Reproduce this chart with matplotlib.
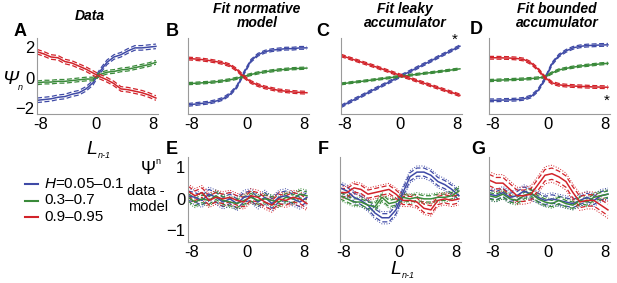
import numpy as np
import matplotlib
matplotlib.use("Agg")
import matplotlib.pyplot as plt

plt.rcParams["font.family"] = ["Liberation Sans", "DejaVu Sans"]
plt.rcParams["mathtext.fontset"] = "custom"
plt.rcParams["mathtext.rm"] = "Liberation Sans"
plt.rcParams["mathtext.it"] = "Liberation Sans:italic"
plt.rcParams["mathtext.bf"] = "Liberation Sans:bold"

# L_{n-1} grid
L = [-8.5, -7.5, -6.5, -5.5, -4.5, -3.5, -2.5, -1.5, -0.5,
     0.5, 1.5, 2.5, 3.5, 4.5, 5.5, 6.5, 7.5, 8.5]
hazard_labels = ["$H$=0.05\u20130.1", "0.3\u20130.7", "0.9\u20130.95"]

# top row: psi_n
data_blue = [-1.5, -1.45, -1.4, -1.3, -1.25, -1.1, -1.0, -0.75, -0.35, 0.4, 1.0, 1.35, 1.5, 1.75, 1.95, 1.95, 2.0, 2.05]
data_green = [-0.35, -0.3, -0.3, -0.25, -0.25, -0.2, -0.15, -0.1, -0.1, 0.2, 0.35, 0.4, 0.5, 0.55, 0.65, 0.75, 0.85, 1.0]
data_red = [1.7, 1.55, 1.35, 1.3, 1.05, 0.95, 0.75, 0.55, 0.3, 0.05, -0.15, -0.4, -0.75, -0.8, -0.9, -1.0, -1.15, -1.35]

norm_blue = [-1.8, -1.75, -1.7, -1.65, -1.55, -1.4, -1.1, -0.6, 0.3, 1.1, 1.5, 1.7, 1.8, 1.85, 1.9, 1.9, 1.95, 1.95]
norm_green = [-0.4, -0.38, -0.35, -0.32, -0.28, -0.22, -0.15, -0.05, 0.08, 0.2, 0.3, 0.38, 0.44, 0.5, 0.54, 0.58, 0.6, 0.62]
norm_red = [1.25, 1.22, 1.18, 1.12, 1.05, 0.95, 0.8, 0.5, 0.05, -0.3, -0.5, -0.65, -0.75, -0.85, -0.9, -0.95, -0.98, -1.0]

leaky_blue = [-1.9, -1.66, -1.43, -1.2, -0.96, -0.73, -0.5, -0.27, -0.03, 0.2, 0.43, 0.67, 0.9, 1.13, 1.37, 1.6, 1.83, 2.06]
leaky_green = [-0.42, -0.36, -0.3, -0.25, -0.19, -0.13, -0.07, -0.01, 0.05, 0.1, 0.16, 0.22, 0.28, 0.33, 0.39, 0.45, 0.51, 0.57]
leaky_red = [1.45, 1.3, 1.15, 1.0, 0.85, 0.7, 0.54, 0.38, 0.22, 0.07, -0.08, -0.24, -0.39, -0.55, -0.7, -0.86, -1.01, -1.17]

bound_blue = [-1.5, -1.5, -1.48, -1.47, -1.45, -1.4, -1.25, -0.85, -0.1, 0.9, 1.45, 1.75, 1.95, 2.05, 2.1, 2.12, 2.14, 2.15]
bound_green = [-0.2, -0.18, -0.16, -0.14, -0.12, -0.1, -0.07, -0.03, 0.05, 0.3, 0.5, 0.6, 0.68, 0.75, 0.8, 0.85, 0.9, 0.93]
bound_red = [1.3, 1.3, 1.29, 1.28, 1.25, 1.18, 0.95, 0.55, 0.0, -0.35, -0.48, -0.53, -0.56, -0.58, -0.6, -0.62, -0.63, -0.64]

# bottom row: data - model
res_norm_blue = [0.1, 0.05, -0.05, 0.15, 0.05, -0.1, 0.0, -0.15, 0.05, 0.1, -0.1, 0.05, -0.15, 0.05, 0.1, 0.0, -0.1, 0.05]
res_norm_green = [0.05, -0.1, 0.0, -0.05, 0.1, -0.05, -0.1, -0.15, -0.05, 0.05, -0.05, 0.0, -0.05, -0.1, 0.05, 0.0, 0.15, 0.1]
res_norm_red = [0.25, 0.1, 0.2, -0.05, 0.05, 0.0, 0.05, -0.05, -0.1, 0.1, 0.05, -0.1, -0.2, 0.0, -0.05, 0.05, 0.0, -0.15]

res_leaky_blue = [0.35, 0.25, 0.05, -0.05, -0.2, -0.45, -0.6, -0.6, -0.35, 0.2, 0.7, 0.85, 0.85, 0.75, 0.55, 0.45, 0.3, 0.1]
res_leaky_green = [0.1, 0.0, -0.1, -0.1, -0.2, -0.25, 0.05, -0.15, -0.1, 0.05, 0.0, 0.05, 0.0, 0.0, 0.05, 0.05, 0.1, 0.25]
res_leaky_red = [0.2, 0.2, 0.35, 0.3, 0.15, 0.2, 0.25, 0.3, 0.15, -0.05, -0.05, -0.1, -0.3, -0.35, -0.05, 0.0, -0.05, 0.0]

res_bound_blue = [0.15, 0.1, 0.2, 0.05, 0.1, 0.25, 0.15, 0.05, -0.05, 0.0, -0.05, -0.1, -0.15, -0.05, 0.05, -0.05, 0.1, 0.15]
res_bound_green = [0.1, 0.05, 0.15, 0.0, -0.05, 0.1, 0.2, 0.0, -0.1, -0.15, -0.05, -0.15, -0.2, -0.05, -0.1, 0.05, 0.1, 0.15]
res_bound_red = [0.6, 0.5, 0.5, 0.3, 0.1, 0.1, 0.15, 0.45, 0.75, 0.8, 0.7, 0.55, 0.2, -0.1, -0.05, -0.05, -0.2, -0.35]

# CI half widths per panel (blue, green, red)
ci_top = [[0.15, 0.12, 0.15], [0.09, 0.07, 0.09], [0.08, 0.06, 0.08], [0.09, 0.07, 0.09]]
ci_bot = [[0.15, 0.12, 0.15], [0.13, 0.1, 0.13], [0.13, 0.1, 0.18]]

colors = ["#3f4aa6", "#3a8a3a", "#d2232a"]

top = [[data_blue, data_green, data_red],
       [norm_blue, norm_green, norm_red],
       [leaky_blue, leaky_green, leaky_red],
       [bound_blue, bound_green, bound_red]]
bot = [[res_norm_blue, res_norm_green, res_norm_red],
       [res_leaky_blue, res_leaky_green, res_leaky_red],
       [res_bound_blue, res_bound_green, res_bound_red]]

W, H = 617, 283
fig = plt.figure(figsize=(W / 100, H / 100), dpi=100)


def px_axes(left, top_px, width, height):
    return fig.add_axes([left / W, 1 - (top_px + height) / H, width / W, height / H])


def style(ax, ylim, yticks, show_y):
    ax.set_xlim(-8.5, 8.8)
    ax.set_ylim(*ylim)
    ax.set_xticks([-8, 0, 8])
    ax.set_xticklabels(["-8", "0", "8"])
    ax.set_yticks(yticks if show_y else [])
    for s in ["top", "right"]:
        ax.spines[s].set_visible(False)
    for s in ["left", "bottom"]:
        ax.spines[s].set_color("#9a9a9a")
        ax.spines[s].set_linewidth(0.8)
    ax.tick_params(length=0, labelsize=12, pad=2)


top_lefts = [37, 188, 341, 489]
for i, series in enumerate(top):
    ax = px_axes(top_lefts[i], 38, 121, 76)
    for j in range(3):
        y = np.array(series[j])
        w = ci_top[i][j]
        ax.plot(L, y + w, "--", color=colors[j], lw=0.9, dashes=(4, 2))
        ax.plot(L, y - w, "--", color=colors[j], lw=0.9, dashes=(4, 2))
        ax.plot(L, y, "-", color=colors[j], lw=1.1)
    style(ax, (-2.4, 2.6), [-2, 0, 2], i == 0)
    if i == 0:
        ax.set_yticklabels(["\u22122", "0", "2"])
    if i == 2:
        ax.text(7.8, 2.45, "*", fontsize=11, ha="center", va="center")
    if i == 3:
        ax.text(8.4, -1.5, "*", fontsize=11, ha="center", va="center")

bot_lefts = [188, 340, 489]
for i, series in enumerate(bot):
    ax = px_axes(bot_lefts[i], 157, 121, 85)
    for j in range(3):
        y = np.array(series[j])
        w = ci_bot[i][j]
        ax.plot(L, y + w * 1.5, ":", color=colors[j], lw=0.7)
        ax.plot(L, y - w * 1.5, ":", color=colors[j], lw=0.7)
        ax.plot(L, y + w, "--", color=colors[j], lw=0.9, dashes=(4, 2))
        ax.plot(L, y - w, "--", color=colors[j], lw=0.9, dashes=(4, 2))
    for j in range(3):
        ax.plot(L, series[j], "-", color=colors[j], lw=1.1)
    style(ax, (-1.37, 1.33), [-1, 0, 1], i == 0)
    if i == 0:
        ax.set_yticklabels(["\u22121", "0", "1"])

# axis labels (big letter with small italic subscript)
fig.text(10 / W, 1 - 80 / H, "\u03a8", ha="center", va="center", fontsize=14, style="italic")
fig.text(18 / W, 1 - 87 / H, "n", ha="left", va="center", fontsize=6.5, style="italic")
fig.text(92 / W, 1 - 150 / H, "L", ha="center", va="center", fontsize=14, style="italic")
fig.text(98 / W, 1 - 156 / H, "n-1", ha="left", va="center", fontsize=6.5, style="italic")
fig.text(396 / W, 1 - 270 / H, "L", ha="center", va="center", fontsize=14, style="italic")
fig.text(402 / W, 1 - 276 / H, "n-1", ha="left", va="center", fontsize=6.5, style="italic")

# titles
titles = ["Data", "Fit normative\nmodel", "Fit leaky\naccumulator", "Fit bounded\naccumulator"]
title_x = [90, 257, 405, 557]
for t, x in zip(titles, title_x):
    fig.text(x / W, 1 - 16 / H, t, ha="center", va="center", fontsize=10,
             fontweight="bold", style="italic", linespacing=1.05)

letters = [("A", 20, 31), ("B", 172, 32), ("C", 323, 32), ("D", 476, 30),
           ("E", 172, 150), ("F", 323, 150), ("G", 478, 150)]
for s, x, y in letters:
    fig.text(x / W, 1 - y / H, s, ha="center", va="center", fontsize=13, fontweight="bold")

# bottom-row y label
fig.text(148 / W, 1 - 169 / H, "\u03a8", ha="center", va="center", fontsize=13)
fig.text(155 / W, 1 - 161 / H, "n", ha="left", va="center", fontsize=6.5)
fig.text(146 / W, 1 - 191 / H, "data -", ha="center", va="center", fontsize=10.5)
fig.text(148 / W, 1 - 207 / H, "model", ha="center", va="center", fontsize=10.5)

# legend
for j in range(3):
    yy = 1 - (184 + 16.5 * j) / H
    fig.add_artist(plt.Line2D([25 / W, 38 / W], [yy, yy], color=colors[j], lw=1.5))
    fig.text(44 / W, yy, hazard_labels[j], ha="left", va="center", fontsize=11)

fig.savefig("out.png", dpi=100)
